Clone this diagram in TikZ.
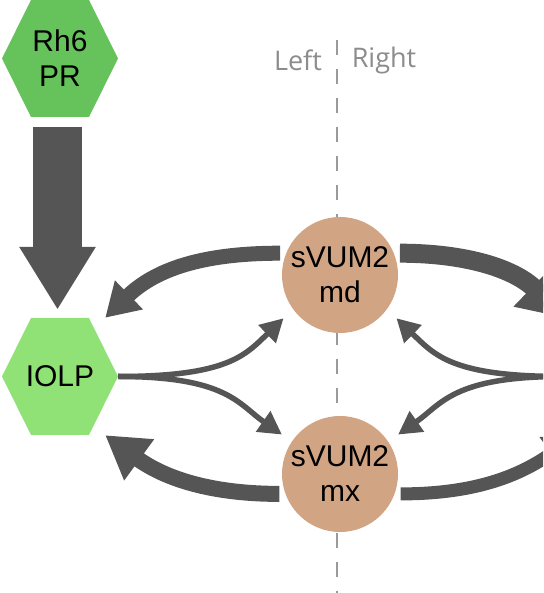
\documentclass[tikz,border=0pt]{standalone}
\usepackage{fontspec}
\setmainfont{Liberation Sans}
\newfontfamily\sidefont{Open Sans}
\usepackage{tikz}
\usetikzlibrary{arrows.meta}
\definecolor{rhgreen}{HTML}{66C25B}
\definecolor{iolpgreen}{HTML}{90E277}
\definecolor{cellfill}{HTML}{D1A584}
\definecolor{arrowgray}{HTML}{555555}
\definecolor{axisgray}{HTML}{9A9A9A}
\definecolor{labelgray}{HTML}{8C8C8C}
\newcommand\cellfont{\fontsize{30}{35}\selectfont}
\newcommand\sidelabelfont{\sidefont\fontsize{27}{30}\selectfont}

\begin{document}
\begin{tikzpicture}[x=1pt, y=1pt,
    hexa/.style={minimum width=116pt, minimum height=117pt, inner sep=0pt, align=center, font=\cellfont,
      path picture={\fill[#1] (path picture bounding box.west) -- ([xshift=29pt]path picture bounding box.north west)
        -- ([xshift=-29pt]path picture bounding box.north east) -- (path picture bounding box.east)
        -- ([xshift=-29pt]path picture bounding box.south east) -- ([xshift=29pt]path picture bounding box.south west) -- cycle;}},
    cell/.style={circle, fill=cellfill, minimum size=116pt, inner sep=0pt, align=center, font=\cellfont},
    side/.style={font=\sidelabelfont, text=labelgray},
    weak/.style={arrowgray, line width=5.5pt, -{Triangle[length=23pt,width=24pt]}, out looseness=1.5, in looseness=0.9},
    strong/.style n args={3}{arrowgray, line width=#1, -{Triangle[length=#2,width=#3]}, shorten <=6pt}]
    \useasboundingbox (0,0) rectangle (543,593);
    \clip (0,0) rectangle (543,593);
    \coordinate (axtop) at (337,553);
    \coordinate (axbot) at (337,0);
    \draw[axisgray, line width=2.2pt, dash pattern=on 15pt off 14pt] (axtop) -- (axbot);
    \node[side] (lft) at (298,533) {Left};
    \node[side] (rgt) at (384,533) {Right};
    \node[hexa=rhgreen] (rh) at (60,534.5) {Rh6\\PR};
    \node[hexa=iolpgreen] (iolp) at (60,216.5) {IOLP};
    \node[cell] (md) at (340,318) {sVUM2\\md};
    \node[cell] (mx) at (340,119) {sVUM2\\mx};
    \coordinate (rmid) at (562,216.5);
    \coordinate (rtop) at (565,275);
    \coordinate (rbot) at (578,159);
    \draw[arrowgray, line width=49pt, -{Triangle[length=63pt,width=72pt]}, shorten <=10pt, shorten >=8pt]
      ([xshift=-2.5pt]rh.south) -- ([xshift=-2.5pt]iolp.north);
    \draw[strong={15pt}{33pt}{38pt}] (md.158) to[out=180, in=44] ([xshift=-13pt]iolp.north east);
    \draw[strong={16pt}{42pt}{48pt}] (mx.200) to[out=180, in=-36] ([xshift=-13pt]iolp.south east);
    \draw[strong={19pt}{45pt}{52pt}] (md.22) to[out=0, in=136] (rtop);
    \draw[strong={13pt}{33pt}{38pt}] (mx.340) to[out=0, in=216] (rbot);
    \draw[weak, shorten >=13pt] (iolp.east) to[out=0, in=224] (md.216);
    \draw[weak, shorten >=12pt] (iolp.east) to[out=0, in=145] (mx.146);
    \draw[weak, shorten >=13pt] (rmid) to[out=180, in=-44] (md.324);
    \draw[weak, shorten >=12pt] (rmid) to[out=180, in=35] (mx.34);
\end{tikzpicture}
\end{document}
